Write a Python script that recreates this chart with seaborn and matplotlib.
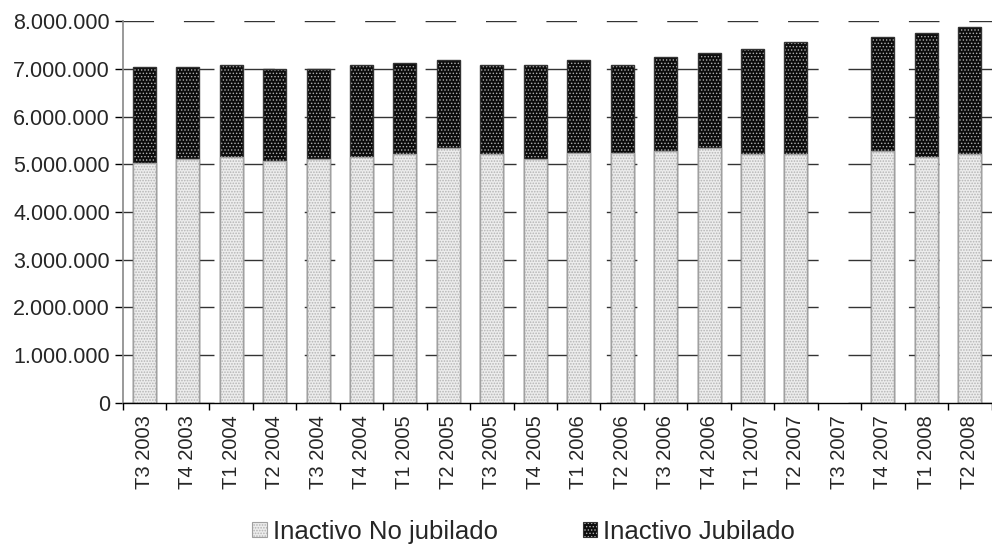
import numpy as np
import pandas as pd
import matplotlib
matplotlib.use("Agg")
import matplotlib.pyplot as plt
from matplotlib.patches import Patch
from matplotlib.colors import to_rgba
from matplotlib.ticker import FuncFormatter, FixedLocator
import seaborn as sns

periods = ["T3 2003", "T4 2003", "T1 2004", "T2 2004", "T3 2004", "T4 2004",
           "T1 2005", "T2 2005", "T3 2005", "T4 2005", "T1 2006", "T2 2006",
           "T3 2006", "T4 2006", "T1 2007", "T2 2007", "T3 2007", "T4 2007",
           "T1 2008", "T2 2008"]
no_jubilado = [5030000, 5120000, 5160000, 5070000, 5120000, 5160000,
               5210000, 5330000, 5210000, 5120000, 5240000, 5240000,
               5280000, 5330000, 5210000, 5210000, np.nan, 5280000,
               5160000, 5210000]
jubilado = [2000000, 1910000, 1920000, 1920000, 1870000, 1920000,
            1920000, 1860000, 1870000, 1960000, 1950000, 1840000,
            1960000, 1990000, 2200000, 2360000, np.nan, 2380000,
            2580000, 2660000]
series_names = ["Inactivo No jubilado", "Inactivo Jubilado"]
y_ticks = [0, 1000000, 2000000, 3000000, 4000000, 5000000, 6000000, 7000000, 8000000]

df = pd.DataFrame({"periodo": periods,
                   "no_jub": no_jubilado,
                   "jub": jubilado})
df["total"] = df["no_jub"] + df["jub"]

sns.set_style("white")
plt.rcParams["font.family"] = ["Liberation Sans", "DejaVu Sans"]

fig = plt.figure(figsize=(9.92, 5.46), dpi=100)
ax = fig.add_axes([0.1235, 0.262, 0.876, 0.6995])

TOP_FACE, TOP_HATCH, TOP_EDGE, TOP_PAT = "#0c0c0c", "#b0b0b0", "#333333", "....."
BOT_FACE, BOT_HATCH, BOT_EDGE, BOT_PAT = "#ededed", "#b4b4b4", "#a0a0a0", "......"


def style_patch(p, face, hatch_col, pat, hlw):
    p.set_facecolor(face)
    p.set_hatch(pat)
    p._hatch_color = to_rgba(hatch_col)
    if hasattr(p, "set_hatch_linewidth"):
        p.set_hatch_linewidth(hlw)


n0 = len(ax.patches)
with plt.rc_context({"hatch.linewidth": 0.6}):
    sns.barplot(data=df, x="periodo", y="total", order=periods, ax=ax,
                width=0.53, color=TOP_FACE, errorbar=None, legend=False,
                edgecolor=TOP_EDGE, linewidth=1.0)
top_patches = ax.patches[n0:]
n1 = len(ax.patches)
with plt.rc_context({"hatch.linewidth": 0.8}):
    sns.barplot(data=df, x="periodo", y="no_jub", order=periods, ax=ax,
                width=0.53, color=BOT_FACE, errorbar=None, legend=False,
                edgecolor=BOT_EDGE, linewidth=1.0)
bot_patches = ax.patches[n1:]

for p in top_patches:
    style_patch(p, TOP_FACE, TOP_HATCH, TOP_PAT, 0.6)
for p in bot_patches:
    style_patch(p, BOT_FACE, BOT_HATCH, BOT_PAT, 0.8)

ax.set_xlim(-0.5, len(periods) - 0.5)
ax.set_ylim(0, 8000000)
ax.set_yticks(y_ticks)
ax.yaxis.set_major_formatter(FuncFormatter(lambda v, _: f"{int(v):,}".replace(",", ".")))
ax.set_xlabel("")
ax.set_ylabel("")

ax.set_xticks(range(len(periods)))
ax.set_xticklabels(periods, rotation=90, fontsize=14.5)
ax.xaxis.set_minor_locator(FixedLocator(np.arange(-0.5, len(periods), 1.0)))
ax.tick_params(axis="x", which="major", length=0, pad=9)
ax.tick_params(axis="x", which="minor", length=5, width=1, color="black", bottom=True)
ax.tick_params(axis="y", which="major", length=6, width=1, color="black",
               labelsize=15.5, pad=3, left=True)

ax.yaxis.grid(True, linestyle=(0, (22, 21.5)), color="#333333", linewidth=1)
ax.xaxis.grid(False)
ax.set_axisbelow(True)

for s in ["top", "right"]:
    ax.spines[s].set_visible(False)
ax.spines["left"].set_color("#888888")
ax.spines["left"].set_linewidth(1.2)
ax.spines["bottom"].set_color("black")
ax.spines["bottom"].set_linewidth(1.0)

h_bot = Patch(facecolor=BOT_FACE, edgecolor=BOT_EDGE, linewidth=0.8)
h_top = Patch(facecolor=TOP_FACE, edgecolor=TOP_EDGE, linewidth=0.8)
leg = fig.legend([h_bot, h_top], series_names, loc="center",
                 bbox_to_anchor=(0.528, 0.026), ncol=2, frameon=False,
                 fontsize=18.5, handlelength=0.55, handleheight=0.55,
                 handletextpad=0.25, columnspacing=3.3, borderpad=0)
styles = [(BOT_FACE, BOT_HATCH, BOT_PAT, 0.8), (TOP_FACE, TOP_HATCH, TOP_PAT, 0.6)]
for h, st in zip(leg.legend_handles, styles):
    style_patch(h, *st)

fig.savefig("out.png", dpi=100)
